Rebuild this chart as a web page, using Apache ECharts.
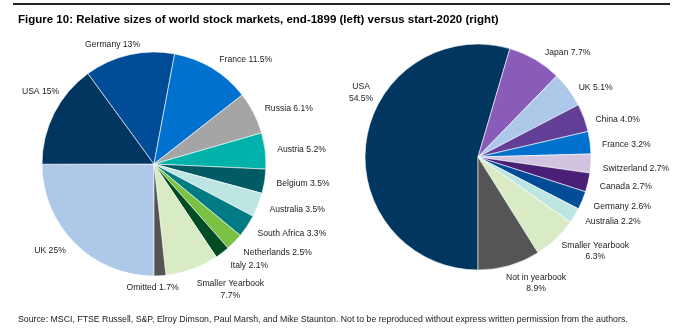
<!DOCTYPE html>
<html><head><meta charset="utf-8">
<script src="https://cdn.jsdelivr.net/npm/echarts@6/dist/echarts.min.js"></script>
<style>html,body{margin:0;padding:0;background:#fff}#c{width:679px;height:329px}</style>
</head><body><div id="c"></div>
<script>
// ---- data ----
const leftNames = ['UK','USA','Germany','France','Russia','Austria','Belgium','Australia','South Africa','Netherlands','Italy','Smaller Yearbook','Omitted'];
const leftValues = [25,15,13,11.5,6.1,5.2,3.5,3.5,3.3,2.5,2.1,7.7,1.7];
const leftLabels = ['UK 25%','USA 15%','Germany 13%','France 11.5%','Russia 6.1%','Austria 5.2%','Belgium 3.5%','Australia 3.5%','South Africa 3.3%','Netherlands 2.5%','Italy 2.1%','Smaller Yearbook\n7.7%','Omitted 1.7%'];
const rightNames = ['USA','Japan','UK','China','France','Switzerland','Canada','Germany','Australia','Smaller Yearbook','Not in yearbook'];
const rightValues = [54.5,7.7,5.1,4.0,3.2,2.7,2.7,2.6,2.2,6.3,8.9];
const rightLabels = ['USA\n54.5%','Japan 7.7%','UK 5.1%','China 4.0%','France 3.2%','Switzerland 2.7%','Canada 2.7%','Germany 2.6%','Australia 2.2%','Smaller Yearbook\n6.3%','Not in yearbook\n8.9%'];
const titleText = 'Figure 10: Relative sizes of world stock markets, end-1899 (left) versus start-2020 (right)';
const sourceText = 'Source: MSCI, FTSE Russell, S&P, Elroy Dimson, Paul Marsh, and Mike Staunton. Not to be reproduced without express written permission from the authors.';

// ---- styles ----
const leftColors = ['#adc8e8','#00365f','#004c97','#0071ce','#a5a5a5','#00b2a9','#005b64','#bde6e3','#007b84','#7bc143','#004c24','#d9ebc5','#555555'];
const rightColors = ['#00365f','#8a5cba','#adc8e8','#633e97','#0071ce','#d1c4e0','#4a1f76','#004c97','#bde6e3','#d9ebc5','#555555'];
const FONT = '"Liberation Sans", Arial, sans-serif';
// label nudges (text offsets only)
const leftNudge = {1:[16,-17], 2:[15,0], 6:[0,1], 7:[0,1], 8:[0,2], 9:[0,4], 10:[0,5], 11:[-1,11], 12:[-36,2]};
const rightNudge = {0:[19,-47], 1:[3,2], 2:[0,4], 3:[0,5], 4:[0,3], 5:[0,4], 6:[0,2], 7:[0,2], 8:[0,1], 9:[-3,5], 10:[-8,8]};

function makeLayout(nudges){
  return function(p){
    const r = p.labelRect; const n = nudges[p.dataIndex] || [0,0];
    return {x: r.x + r.width/2 + n[0], y: r.y + r.height/2 + n[1], align:'center', verticalAlign:'middle'};
  };
}
function pie(names, values, labels, colors, center, radius, nudges){
  return {
    type:'pie', center: center, radius: radius, startAngle: 270, clockwise: true,
    avoidLabelOverlap: false, silent: true,
    itemStyle: {borderColor:'#ffffff', borderWidth:0.6},
    label: {show:true, position:'outside', distanceToLabelLine: 2, color:'#222', fontFamily: FONT, fontSize:8.6, lineHeight:11.5,
      formatter: p => labels[p.dataIndex]},
    labelLine: {show:false, length:10, length2:0},
    labelLayout: makeLayout(nudges),
    data: names.map((n,i)=>({name:n, value:values[i], itemStyle:{color:colors[i]}}))
  };
}
const chart = echarts.init(document.getElementById('c'), null, {renderer:'canvas'});
chart.setOption({
  backgroundColor:'#ffffff',
  animation:false,
  title:[
    {text:titleText, left:13, top:9, textStyle:{fontFamily:FONT, fontWeight:'bold', fontSize:11.5, color:'#000'}},
    {text:sourceText, left:13, top:310, textStyle:{fontFamily:FONT, fontWeight:'normal', fontSize:8.75, color:'#222'}}
  ],
  graphic:[{type:'rect', shape:{x:13, y:3, width:657, height:2}, style:{fill:'#222'}}],
  series:[
    pie(leftNames, leftValues, leftLabels, leftColors, [154,164], 112, leftNudge),
    pie(rightNames, rightValues, rightLabels, rightColors, [478,157], 113, rightNudge)
  ]
});
</script></body></html>
